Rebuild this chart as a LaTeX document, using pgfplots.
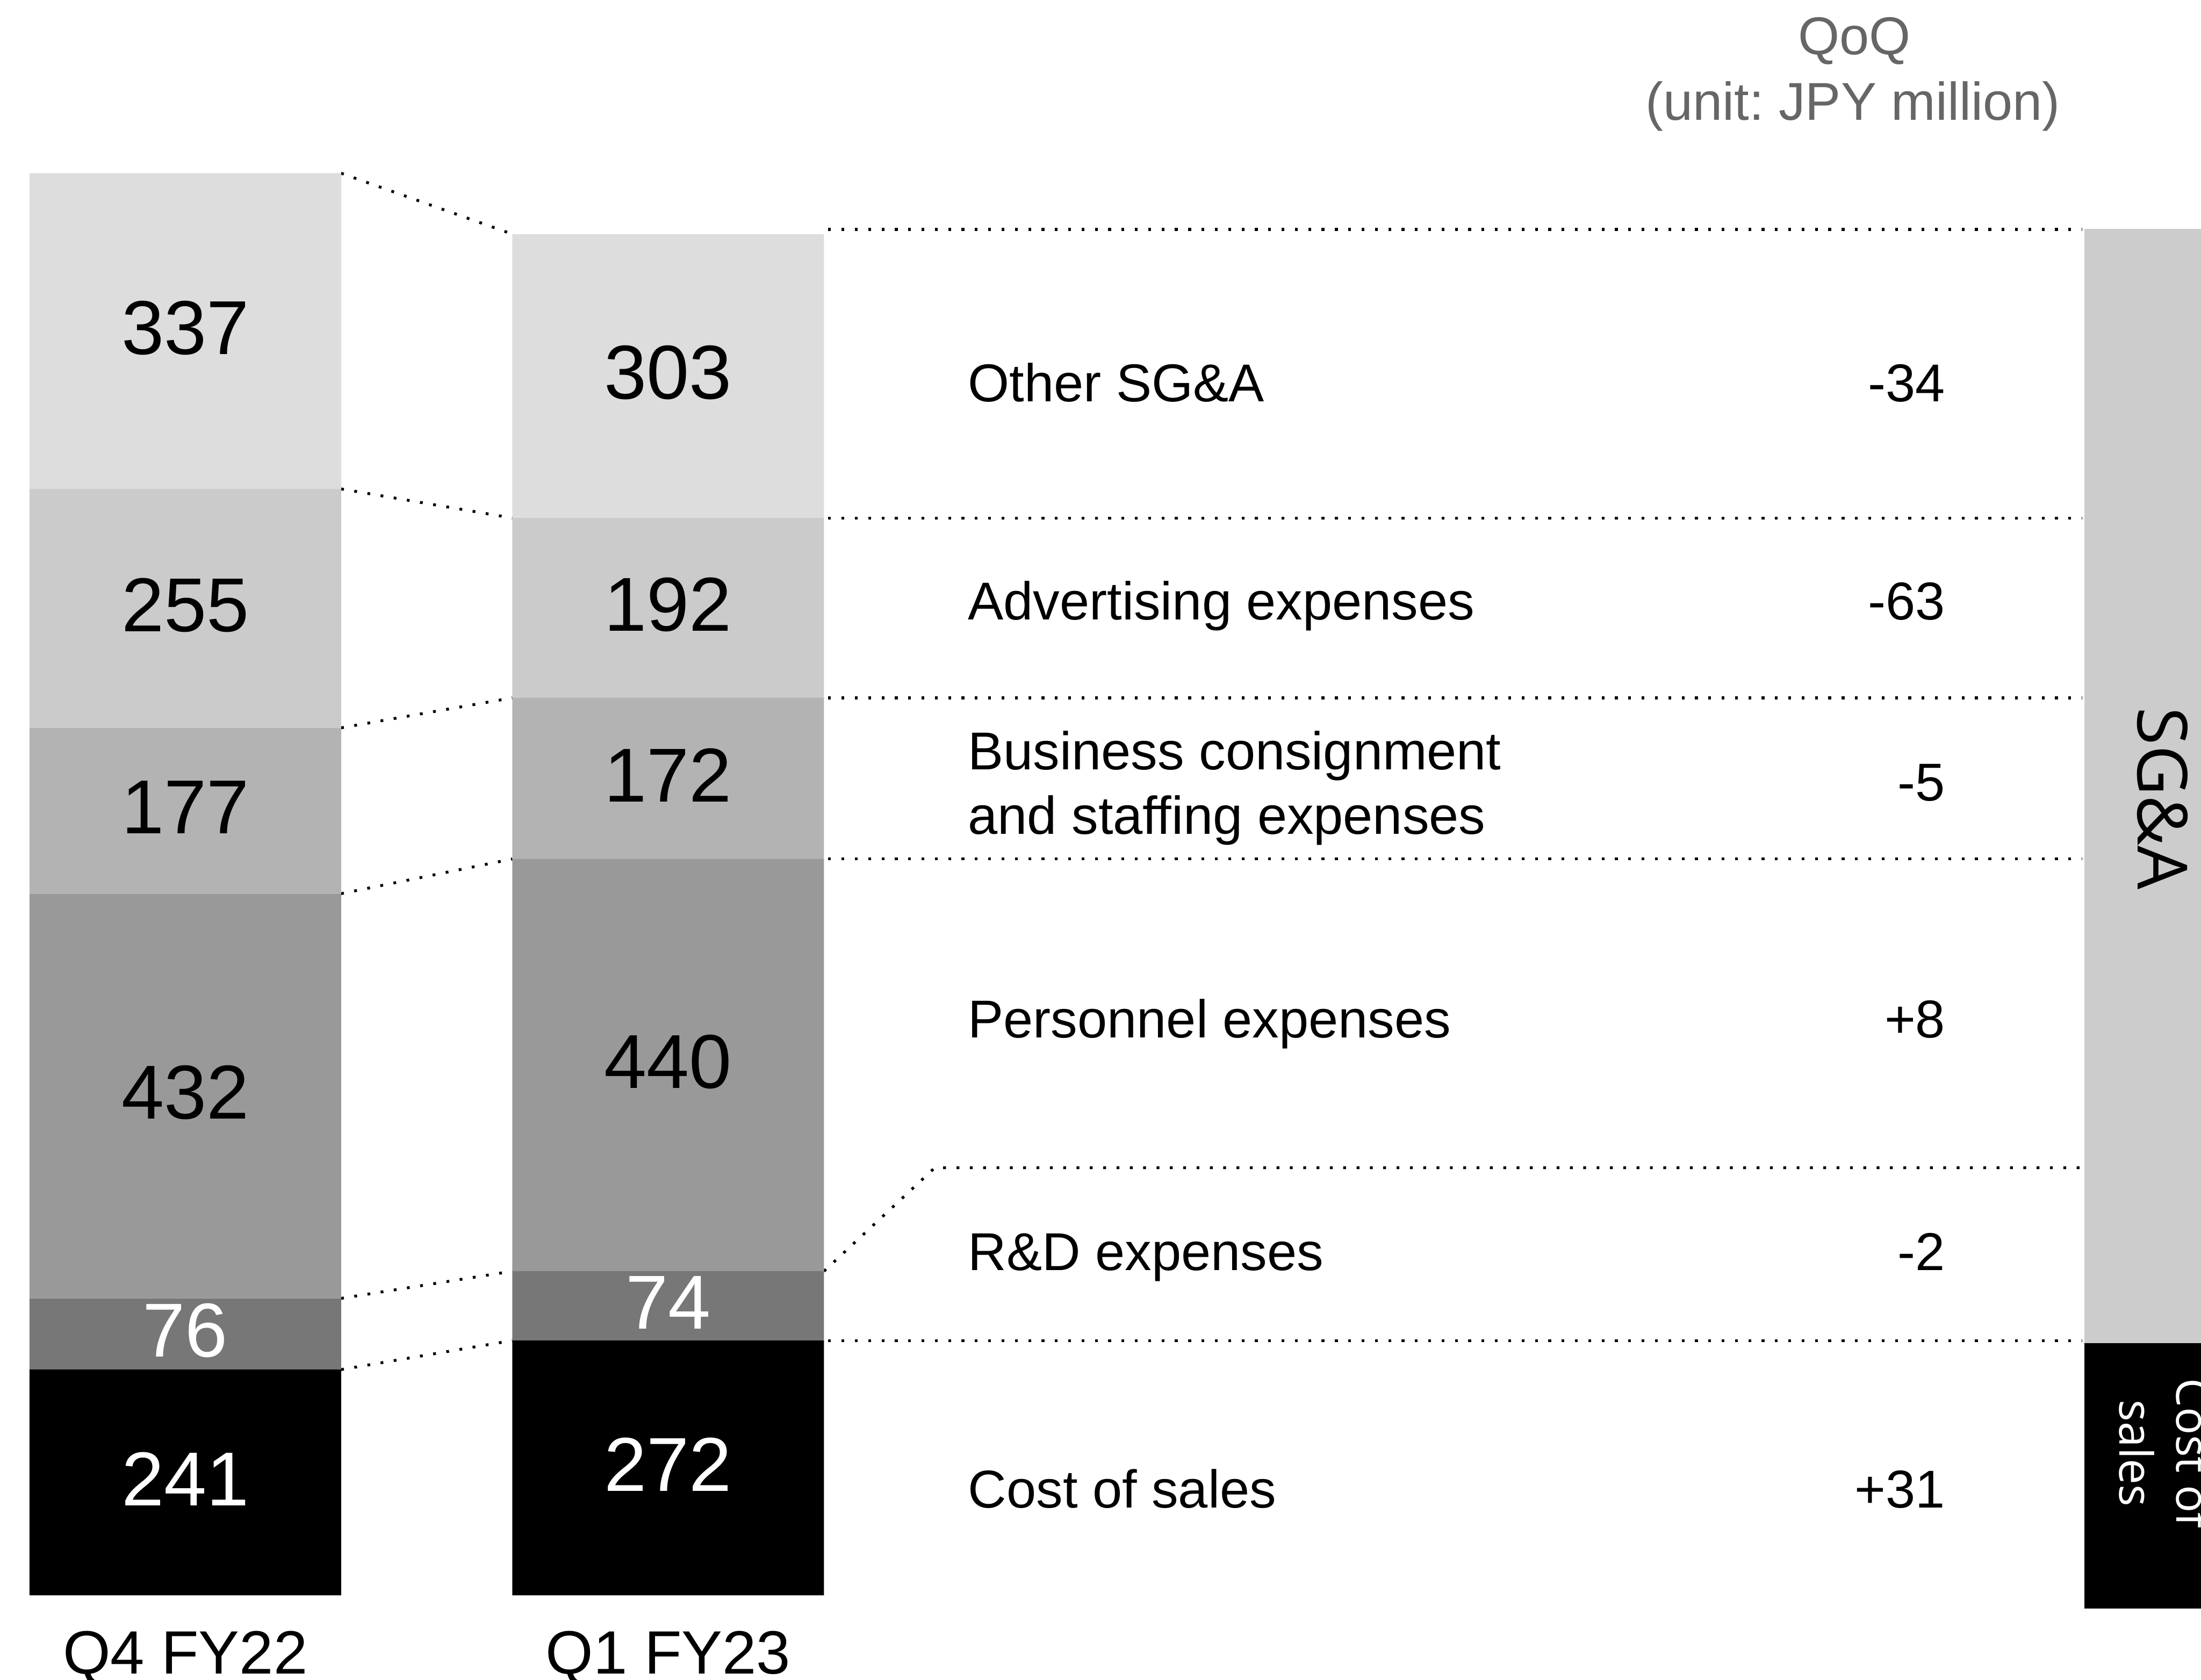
\documentclass[border=0pt]{standalone}
\usepackage{pgfplots}
\pgfplotsset{compat=1.18}
\usepackage{pgfplotstable}
\usepackage{fontspec}
\setmainfont{Liberation Sans}
\newfontfamily\osans{Open Sans}
\frenchspacing
\definecolor{cOth}{HTML}{DDDDDD}
\definecolor{cAdv}{HTML}{CBCBCB}
\definecolor{cBus}{HTML}{B3B3B3}
\definecolor{cPer}{HTML}{999999}
\definecolor{cRD}{HTML}{777777}
\definecolor{cBox}{HTML}{CCCCCC}
\definecolor{cHead}{HTML}{666666}
\newcommand\numfont{\fontsize{15.5}{18}\selectfont}
\newcommand\labfont{\fontsize{10.8}{13}\selectfont}
\newcommand\catfont{\fontsize{12.4}{15}\selectfont}
\tikzset{dots/.style={line width=0.2mm, dash pattern=on 0.2mm off 0.75mm, black}}
\pgfplotstableread{
x cost rd pers bus adv oth
132 241 76 432 177 255 337
476 272 74 440 172 192 303
}\data
\begin{document}
\begin{tikzpicture}
\begin{axis}[at={(0,0)}, anchor=south west, width=15.68cm, height=11.97cm,
  scale only axis, hide axis, xmin=0, xmax=1568, ymin=-90.3, ymax=1702.9,
  enlargelimits=false, clip=false, ybar stacked, bar width=222]
\addplot[draw=none, fill=black] table[x=x, y=cost]{\data};
\addplot[draw=none, fill=cRD] table[x=x, y=rd]{\data};
\addplot[draw=none, fill=cPer] table[x=x, y=pers]{\data};
\addplot[draw=none, fill=cBus] table[x=x, y=bus]{\data};
\addplot[draw=none, fill=cAdv] table[x=x, y=adv]{\data};
\addplot[draw=none, fill=cOth] table[x=x, y=oth]{\data};

% right bracket corners
\coordinate (g1) at (axis cs:1485,269.2);
\coordinate (g2) at (axis cs:1600,1458.4);
\coordinate (b1) at (axis cs:1485,-13.9);
\coordinate (b2) at (axis cs:1600,269.2);
\coordinate (tSGA) at (axis cs:1523,850.5);
\coordinate (tCost) at (axis cs:1550.6,151.6);
\coordinate (tSales) at (axis cs:1510,151.6);

% connectors between bars
\draw[dots] (axis cs:243,1518) -- (axis cs:365,1453);
\draw[dots] (axis cs:243,1181) -- (axis cs:365,1150);
\draw[dots] (axis cs:243,926) -- (axis cs:365,958);
\draw[dots] (axis cs:243,749) -- (axis cs:365,786);
\draw[dots] (axis cs:243,317) -- (axis cs:365,346);
\draw[dots] (axis cs:243,241) -- (axis cs:365,272);
% right guide lines
\draw[dots] (axis cs:590,1458) -- (axis cs:1483,1458);
\draw[dots] (axis cs:590,1150) -- (axis cs:1483,1150);
\draw[dots] (axis cs:590,958) -- (axis cs:1483,958);
\draw[dots] (axis cs:590,786) -- (axis cs:1483,786);
\draw[dots] (axis cs:587,346) -- (axis cs:666,456.5) -- (axis cs:1483,456.5);
\draw[dots] (axis cs:590,272) -- (axis cs:1483,272);

% positions of values in bars
\coordinate (a1) at (axis cs:132,1353);
\coordinate (a2) at (axis cs:132,1057);
\coordinate (a3) at (axis cs:132,841);
\coordinate (a4) at (axis cs:132,536.7);
\coordinate (a5) at (axis cs:132,282.7);
\coordinate (a6) at (axis cs:132,124);
\coordinate (c1) at (axis cs:476,1305);
\coordinate (c2) at (axis cs:476,1057.7);
\coordinate (c3) at (axis cs:476,875.7);
\coordinate (c4) at (axis cs:476,569.7);
\coordinate (c5) at (axis cs:476,312.7);
\coordinate (c6) at (axis cs:476,139.7);

% category labels
\node[font=\catfont, anchor=base] at (axis cs:132,-83.6) {Q4 FY22};
\node[font=\catfont, anchor=base] at (axis cs:476,-83.6) {Q1 FY23};

% header
\node[font=\labfont, text=cHead, anchor=base] at (axis cs:1321,1644.5) {QoQ};
\node[font=\labfont, text=cHead, anchor=base] at (axis cs:1320,1574.8) {(unit: JPY million)};

% item labels
\node[font=\labfont, anchor=base west, inner sep=0] at (axis cs:689,1274.4) {Other SG\&A};
\node[font=\labfont, anchor=base west, inner sep=0] at (axis cs:689,1041.5) {Advertising expenses};
\node[font=\labfont, anchor=base west, inner sep=0] at (axis cs:689,881.2) {Business consignment};
\node[font=\labfont, anchor=base west, inner sep=0] at (axis cs:689,812.3) {and staffing expenses};
\node[font=\labfont, anchor=base west, inner sep=0] at (axis cs:689,595.0) {Personnel expenses};
\node[font=\labfont, anchor=base west, inner sep=0] at (axis cs:689,346.7) {R\&D expenses};
\node[font=\labfont, anchor=base west, inner sep=0] at (axis cs:689,93.2) {Cost of sales};

% QoQ values
\node[font=\labfont, anchor=base east, inner sep=0] at (axis cs:1386.5,1274.4) {-34};
\node[font=\labfont, anchor=base east, inner sep=0] at (axis cs:1386.5,1041.5) {-63};
\node[font=\labfont, anchor=base east, inner sep=0] at (axis cs:1386.5,848.2) {-5};
\node[font=\labfont, anchor=base east, inner sep=0] at (axis cs:1386.5,595.0) {+8};
\node[font=\labfont, anchor=base east, inner sep=0] at (axis cs:1386.5,346.7) {-2};
\node[font=\labfont, anchor=base east, inner sep=0] at (axis cs:1386.5,93.2) {+31};
\end{axis}
% bracket and texts on top of the filled areas
\fill[cBox] (g1) rectangle (g2);
\fill[black] (b1) rectangle (b2);
\node[rotate=-90, anchor=base, inner sep=0, font=\osans\fontsize{14}{17}\selectfont] at (tSGA) {SG\&A};
\node[rotate=-90, anchor=base, inner sep=0, text=white, font=\osans\fontsize{9.3}{11}\selectfont] at (tCost) {Cost of};
\node[rotate=-90, anchor=base, inner sep=0, text=white, font=\osans\fontsize{9.3}{11}\selectfont] at (tSales) {sales};
\node[font=\numfont] at (a1) {337};
\node[font=\numfont] at (a2) {255};
\node[font=\numfont] at (a3) {177};
\node[font=\numfont] at (a4) {432};
\node[font=\numfont, text=white] at (a5) {76};
\node[font=\numfont, text=white] at (a6) {241};
\node[font=\numfont] at (c1) {303};
\node[font=\numfont] at (c2) {192};
\node[font=\numfont] at (c3) {172};
\node[font=\numfont] at (c4) {440};
\node[font=\numfont, text=white] at (c5) {74};
\node[font=\numfont, text=white] at (c6) {272};
\pgfresetboundingbox
\useasboundingbox (0,0) rectangle (15.68cm,11.97cm);
\end{tikzpicture}
\end{document}
